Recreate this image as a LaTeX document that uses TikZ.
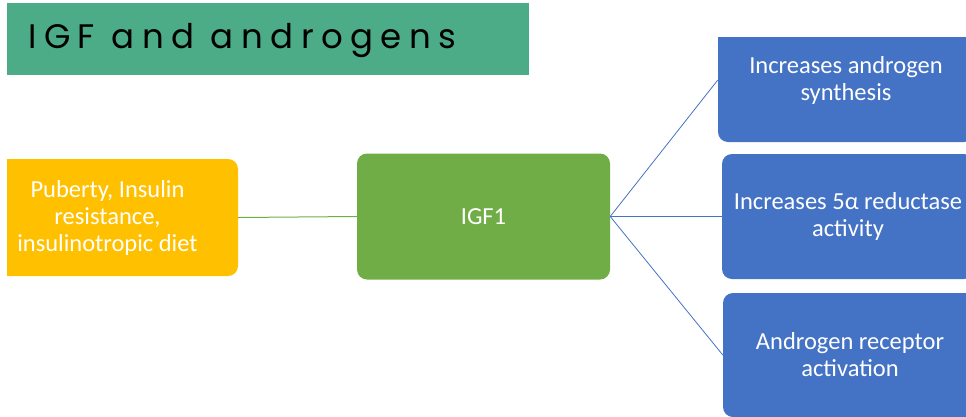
\documentclass[tikz,border=0pt]{standalone}
\usepackage{fontspec}
\setmainfont{Carlito}
\newfontfamily\titlefont[LetterSpace=22]{Poppins}
\definecolor{titlegreen}{HTML}{4CAC87}
\definecolor{ygold}{HTML}{FFC000}
\definecolor{igfgreen}{HTML}{70AD47}
\definecolor{boxblue}{HTML}{4472C4}
\tikzset{
  box/.style={rectangle, rounded corners=10pt, inner sep=4pt, text=white, align=center,
    font=\fontsize{24.5}{27}\selectfont},
  gline/.style={draw=igfgreen, line width=1pt},
  bline/.style={draw=boxblue, line width=0.8pt},
}
\begin{document}
\begin{tikzpicture}[x=1pt,y=-1pt]
\useasboundingbox (0,0) rectangle (966,416);
\clip (0,0) rectangle (966,416);
% title
\node[fill=titlegreen, minimum width=522pt, minimum height=72pt, inner sep=0pt, anchor=north west] (title) at (7,3) {};
\node[anchor=west, inner sep=0pt, font=\titlefont\fontsize{34}{34}\selectfont, text=black] (titletext) at (28,41) {IGF and androgens};
% yellow box (clipped at left)
\begin{scope}
\clip (7,0) rectangle (966,416);
\node[box, fill=ygold, minimum width=261pt, minimum height=117pt] (cause) at (107.5,217.5)
  {Puberty, Insulin\\resistance,\\insulinotropic diet};
\end{scope}
% green box
\node[box, fill=igfgreen, minimum width=253pt, minimum height=126pt] (igf) at (483.5,216.5) {IGF1};
% blue boxes
\begin{scope}
\clip (0,37) rectangle (966,416);
\node[box, fill=boxblue, minimum width=256pt, minimum height=124pt] (b1) at (846,80)
  {Increases androgen\\synthesis};
\end{scope}
\node[box, fill=boxblue, minimum width=252pt, minimum height=125pt] (b2) at (848,216.5)
  {Increases 5α reductase\\activity};
\node[box, fill=boxblue, minimum width=254pt, minimum height=124pt] (b3) at (850,355)
  {Androgen receptor\\activation};
% connectors
\draw[gline] (cause.east) -- (igf.west);
\draw[bline] (igf.east) -- (b1.west);
\draw[bline] (igf.east) -- (b2.west);
\draw[bline] (igf.east) -- (b3.west);
\end{tikzpicture}
\end{document}
